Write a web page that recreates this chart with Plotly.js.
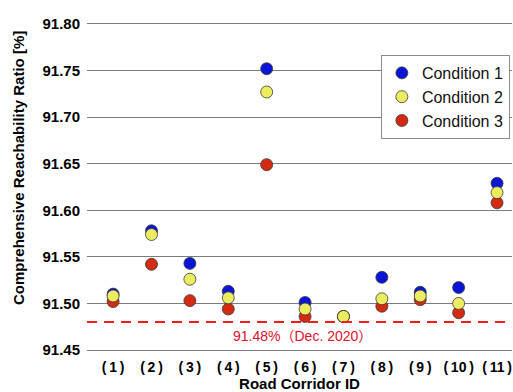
<!DOCTYPE html>
<html>
<head>
<meta charset="utf-8">
<script src="https://cdn.plot.ly/plotly-3.0.1.min.js"></script>
<style>html,body{margin:0;padding:0;background:#fff;}#chart{width:513px;height:392px;}</style>
</head>
<body>
<div id="chart"></div>
<script>
const corridorIds = ['(\u20091\u2009)','(\u20092\u2009)','(\u20093\u2009)','(\u20094\u2009)','(\u20095\u2009)','(\u20096\u2009)','(\u20097\u2009)','(\u20098\u2009)','(\u20099\u2009)','(\u200910\u2009)','(\u200911\u2009)'];
const condition1 = [91.510, 91.578, 91.543, 91.513, 91.752, 91.501, 91.486, 91.528, 91.512, 91.517, 91.629];
const condition2 = [91.508, 91.574, 91.526, 91.506, 91.727, 91.494, 91.486, 91.505, 91.508, 91.500, 91.619];
const condition3 = [91.502, 91.542, 91.503, 91.494, 91.649, 91.486, 91.486, 91.497, 91.504, 91.490, 91.608];
const baselineValue = 91.48;
const baselineLabel = '91.48%（Dec. 2020）';
const yTickValues = [91.45, 91.50, 91.55, 91.60, 91.65, 91.70, 91.75, 91.80];

const FONT = 'Liberation Sans, Arial, Noto Sans CJK JP, sans-serif';
const mk = (color) => ({size: 12, color: color, line: {color: '#3a3a3a', width: 0.8}});

const traces = [
  {x: corridorIds, y: condition1, name: 'Condition 1', type: 'scatter', mode: 'markers', marker: mk('#0a14d6'), legendrank: 1},
  {x: corridorIds, y: condition3, name: 'Condition 3', type: 'scatter', mode: 'markers', marker: mk('#d42a12'), legendrank: 3},
  {x: corridorIds, y: condition2, name: 'Condition 2', type: 'scatter', mode: 'markers', marker: mk('#ecec60'), legendrank: 2}
];

const layout = {
  width: 513, height: 392,
  margin: {l: 87, r: 1, t: 24, b: 42, pad: 0},
  paper_bgcolor: '#ffffff', plot_bgcolor: '#ffffff',
  font: {family: FONT, color: '#000'},
  showlegend: true,
  legend: {
    x: 0.995, xanchor: 'right', y: 0.905, yanchor: 'top',
    bgcolor: '#ffffff', bordercolor: '#8a8a8a', borderwidth: 1,
    font: {family: FONT, size: 16, color: '#111'},
    itemwidth: 30, tracegroupgap: 0
  },
  xaxis: {
    type: 'category',
    range: [-0.68, 10.39],
    showgrid: false, zeroline: false,
    showline: true, mirror: true, linecolor: '#7c7c7c', linewidth: 1.2,
    ticks: '', ticklabelstandoff: 4, tickangle: 0,
    tickfont: {family: FONT, size: 14, color: '#000', weight: 'bold'},
    title: {text: 'Road Corridor ID', font: {family: FONT, size: 15, color: '#000', weight: 'bold'}, standoff: 0}
  },
  yaxis: {
    range: [91.45, 91.80],
    tickvals: yTickValues,
    tickformat: '.2f',
    showgrid: true, gridcolor: '#7c7c7c', gridwidth: 1.2,
    zeroline: false, showline: false,
    ticks: '', ticklabelstandoff: 6,
    tickfont: {family: FONT, size: 15, color: '#000', weight: 'bold'}
  },
  shapes: [{
    type: 'line', xref: 'paper', x0: 0, x1: 1, yref: 'y', y0: baselineValue, y1: baselineValue,
    line: {color: '#ff1a1a', width: 2, dash: '10px,7px'}
  }],
  annotations: [
    {text: baselineLabel, xref: 'paper', yref: 'paper', x: 0.506, y: (350 - 336) / 326,
     xanchor: 'center', yanchor: 'middle', showarrow: false,
     font: {family: FONT, size: 14, color: '#e0102c'}},
    {text: 'Comprehensive Reachability Ratio [%]', xref: 'paper', yref: 'paper',
     x: (18 - 87) / 425, y: (350 - 168) / 326, xanchor: 'center', yanchor: 'middle',
     textangle: -90, showarrow: false,
     font: {family: FONT, size: 15, color: '#000', weight: 'bold'}}
  ]
};

Plotly.newPlot('chart', traces, layout, {displayModeBar: false, staticPlot: true});
</script>
</body>
</html>
